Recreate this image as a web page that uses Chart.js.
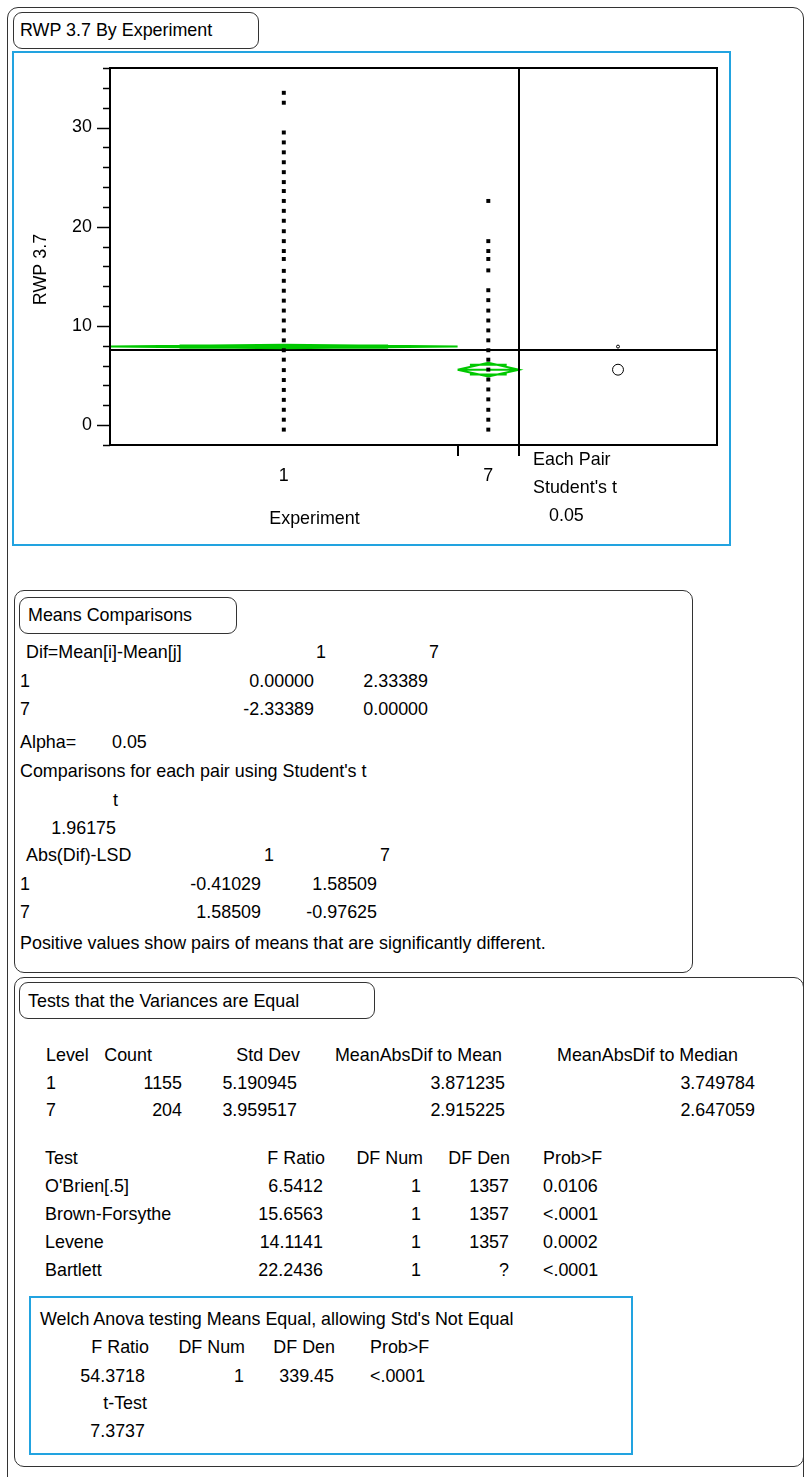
<!DOCTYPE html>
<html><head><meta charset="utf-8">
<script src="https://cdn.jsdelivr.net/npm/chart.js@4"></script>
<style>
html,body{margin:0;padding:0;background:#fff;}
body{width:804px;height:1477px;position:relative;overflow:hidden;font-family:"Liberation Sans",Arial,Helvetica,sans-serif;color:#000;}
.box{position:absolute;border:1px solid #333;border-radius:10px;box-sizing:border-box;}
.blue{position:absolute;border:2px solid #22a3e0;box-sizing:border-box;}
.t{position:absolute;white-space:nowrap;line-height:1;}
#cv{position:absolute;left:12px;top:52px;}
</style></head><body>
<div class="box" style="left:7px;top:7px;width:797px;height:1490px;border-radius:11px;"></div>
<div class="box" style="left:13px;top:12px;width:246px;height:37px;border-radius:9px;"></div>
<div class="blue" style="left:12px;top:51px;width:719px;height:495px;"></div>
<div class="box" style="left:14px;top:590px;width:679px;height:383px;"></div>
<div class="box" style="left:19px;top:597px;width:218px;height:37px;border-radius:9px;"></div>
<div class="box" style="left:14px;top:977px;width:790px;height:490px;"></div>
<div class="box" style="left:19px;top:982px;width:356px;height:37px;border-radius:9px;"></div>
<div class="blue" style="left:29px;top:1296px;width:604px;height:159px;"></div>
<canvas id="cv" width="718" height="493"></canvas>
<script>
// ---------------- data ----------------
const categories = ['1', '7'];
const counts = [1155, 204];
const group1Values = [-0.45, 0.55, 1.55, 2.55, 3.55, 4.55, 5.55, 6.6, 7.55, 8.55, 9.55, 10.55, 11.55, 12.55, 13.55, 14.55, 15.55, 16.75, 17.55, 18.55, 19.55, 20.6, 21.6, 22.6, 23.6, 24.5, 25.5, 26.5, 27.5, 28.5, 29.5, 32.5, 33.5];
const group7Values = [-0.45, 0.55, 1.55, 2.6, 3.6, 4.6, 5.6, 6.6, 7.55, 8.55, 9.55, 10.55, 11.55, 12.6, 13.6, 15.6, 16.75, 17.55, 18.55, 22.6];
const groupMeans = [7.92, 5.59];
const meanCIHalf = [0.18, 0.69];
const overlapMark = [0.12, 0.49];
const grandMean = 7.57;
const circleRadius = [0.15, 0.55];
const yTickLabels = [0, 10, 20, 30];
const yMin = -2, yMax = 36;

// text tables
const meansHeader = ['Dif=Mean[i]-Mean[j]', '1', '7'];
const difRows = [['1', '0.00000', '2.33389'], ['7', '-2.33389', '0.00000']];
const alphaValue = '0.05';
const tValue = '1.96175';
const lsdHeader = ['Abs(Dif)-LSD', '1', '7'];
const lsdRows = [['1', '-0.41029', '1.58509'], ['7', '1.58509', '-0.97625']];
const levelHeader = ['Level', 'Count', 'Std Dev', 'MeanAbsDif to Mean', 'MeanAbsDif to Median'];
const levelRows = [['1', '1155', '5.190945', '3.871235', '3.749784'], ['7', '204', '3.959517', '2.915225', '2.647059']];
const testHeader = ['Test', 'F Ratio', 'DF Num', 'DF Den', 'Prob>F'];
const testRows = [
  ["O'Brien[.5]", '6.5412', '1', '1357', '0.0106'],
  ['Brown-Forsythe', '15.6563', '1', '1357', '<.0001'],
  ['Levene', '14.1141', '1', '1357', '0.0002'],
  ['Bartlett', '22.2436', '1', '?', '<.0001']
];
const welchHeader = ['F Ratio', 'DF Num', 'DF Den', 'Prob>F'];
const welchRow = ['54.3718', '1', '339.45', '<.0001'];
const welchT = '7.3737';

// ---------------- text helpers ----------------
const FS = 17.9;
function put(text, x, base, align) {
  const d = document.createElement('div');
  d.className = 't';
  d.textContent = text;
  d.style.fontSize = FS + 'px';
  d.style.top = (base - 0.845 * FS) + 'px';
  d.style.left = x + 'px';
  if (align === 'right') d.style.transform = 'translateX(-100%)';
  else if (align === 'center') d.style.transform = 'translateX(-50%)';
  document.body.appendChild(d);
}
function putRow(row, cols, base) {
  row.forEach((txt, i) => put(txt, cols[i][0], base, cols[i][1]));
}

put('RWP 3.7 By Experiment', 20, 37, 'left');
put('Each Pair', 533, 466, 'left');
put("Student's t", 533, 494, 'left');
put(alphaValue, 549, 522, 'left');

// Means comparisons
put('Means Comparisons', 28, 622, 'left');
putRow(meansHeader, [[26, 'left'], [326, 'right'], [439, 'right']], 659);
const difCols = [[20, 'left'], [314, 'right'], [428, 'right']];
putRow(difRows[0], difCols, 688);
putRow(difRows[1], difCols, 716);
put('Alpha=', 20, 749, 'left');
put(alphaValue, 112, 749, 'left');
put("Comparisons for each pair using Student's t", 20, 778, 'left');
put('t', 118, 807, 'right');
put(tValue, 116, 835, 'right');
putRow(lsdHeader, [[26, 'left'], [274, 'right'], [390, 'right']], 862);
const lsdCols = [[20, 'left'], [261, 'right'], [377, 'right']];
putRow(lsdRows[0], lsdCols, 891);
putRow(lsdRows[1], lsdCols, 919);
put('Positive values show pairs of means that are significantly different.', 20, 950, 'left');

// Tests that variances are equal
put('Tests that the Variances are Equal', 28, 1008, 'left');
putRow(levelHeader, [[46, 'left'], [152, 'right'], [300, 'right'], [502, 'right'], [738, 'right']], 1062);
const levelCols = [[46, 'left'], [182, 'right'], [297, 'right'], [505, 'right'], [755, 'right']];
putRow(levelRows[0], levelCols, 1090);
putRow(levelRows[1], levelCols, 1117);
putRow(testHeader, [[45, 'left'], [325, 'right'], [423, 'right'], [510, 'right'], [543, 'left']], 1165);
const testCols = [[45, 'left'], [323, 'right'], [421, 'right'], [509, 'right'], [543, 'left']];
testRows.forEach((r, i) => putRow(r, testCols, 1193 + i * 28));
put("Welch Anova testing Means Equal, allowing Std's Not Equal", 40, 1326, 'left');
putRow(welchHeader, [[149, 'right'], [245, 'right'], [335, 'right'], [370, 'left']], 1354);
putRow(welchRow, [[145, 'right'], [244, 'right'], [334, 'right'], [370, 'left']], 1383);
put('t-Test', 147, 1410, 'right');
put(welchT, 145, 1438, 'right');

// ---------------- chart ----------------
const FONT = '"Liberation Sans", Arial, Helvetica, sans-serif';
const GREEN = '#00c800';
const total = counts[0] + counts[1];
const PANEL_RATIO = 198 / 409;              // width of comparison-circle panel relative to the group area
const xMax = total * (1 + PANEL_RATIO);
const bounds = [0, counts[0], total];
const centers = [counts[0] / 2, counts[0] + counts[1] / 2];
const circleX = total + total * PANEL_RATIO / 2;

function diamondData(g) {
  const x0 = bounds[g], x1 = bounds[g + 1], c = centers[g], m = groupMeans[g], h = meanCIHalf[g];
  const w = (x1 - x0) / 2, o = overlapMark[g];
  return [
    {x: x0, y: m}, {x: c, y: m + h}, {x: x1, y: m}, {x: c, y: m - h}, {x: x0, y: m}, {x: x0, y: null},
    {x: x0, y: m}, {x: x1, y: m}, {x: x1, y: null},
    {x: c - 0.6 * w, y: m + o}, {x: c + 0.6 * w, y: m + o}, {x: c + 0.6 * w, y: null},
    {x: c - 0.6 * w, y: m - o}, {x: c + 0.6 * w, y: m - o}
  ];
}

const framePlugin = {
  id: 'frame',
  afterDatasetsDraw(chart) {
    const ctx = chart.ctx, a = chart.chartArea, xs = chart.scales.x, ys = chart.scales.y;
    ctx.save();
    ctx.strokeStyle = '#000';
    ctx.lineWidth = 2;
    ctx.strokeRect(a.left, a.top, a.right - a.left, a.bottom - a.top);
    // y tick marks
    ctx.lineWidth = 1.5;
    for (let v = yMin; v <= yMax; v += 2) {
      const py = Math.round(ys.getPixelForValue(v)) + 0.5;
      const len = (v % 10 === 0) ? 13 : 7;
      ctx.beginPath(); ctx.moveTo(a.left - len, py); ctx.lineTo(a.left, py); ctx.stroke();
    }
    // group boundary tick and separator
    ctx.lineWidth = 2;
    const bx = Math.round(xs.getPixelForValue(bounds[1]));
    ctx.beginPath(); ctx.moveTo(bx, a.bottom); ctx.lineTo(bx, a.bottom + 11); ctx.stroke();
    const sx = Math.round(xs.getPixelForValue(total));
    ctx.beginPath(); ctx.moveTo(sx, a.top); ctx.lineTo(sx, a.bottom + 11); ctx.stroke();
    // axis titles
    ctx.fillStyle = '#000';
    ctx.font = FS + 'px ' + FONT;
    ctx.textAlign = 'center';
    ctx.textBaseline = 'alphabetic';
    const mid = (xs.getPixelForValue(0) + sx) / 2;
    ctx.fillText('Experiment', mid, a.bottom + 79);
    ctx.translate(a.left - 64, (a.top + a.bottom) / 2 + 13);
    ctx.rotate(-Math.PI / 2);
    ctx.fillText('RWP 3.7', 0, 0);
    ctx.restore();
  }
};

function noPad(s) { s.paddingTop = 0; s.paddingBottom = 0; s.paddingLeft = 0; s.paddingRight = 0; }

new Chart(document.getElementById('cv'), {
  type: 'scatter',
  data: {
    datasets: [
      {
        label: categories[0],
        data: group1Values.map(v => ({x: centers[0], y: v})),
        pointStyle: 'rect', pointRadius: 2.8, pointBackgroundColor: '#000', pointBorderWidth: 0, order: 0
      },
      {
        label: categories[1],
        data: group7Values.map(v => ({x: centers[1], y: v})),
        pointStyle: 'rect', pointRadius: 2.8, pointBackgroundColor: '#000', pointBorderWidth: 0, order: 0
      },
      {
        type: 'line', label: 'diamond 1', data: diamondData(0), borderColor: GREEN, borderWidth: 2,
        pointRadius: 0, spanGaps: false, fill: false, tension: 0, order: 1
      },
      {
        type: 'line', label: 'diamond 7', data: diamondData(1), borderColor: GREEN, borderWidth: 2,
        pointRadius: 0, spanGaps: false, fill: false, tension: 0, order: 1
      },
      {
        type: 'line', label: 'grand mean', data: [{x: 0, y: grandMean}, {x: xMax, y: grandMean}],
        borderColor: '#000', borderWidth: 2, pointRadius: 0, order: 2
      },
      {
        label: 'comparison circles',
        data: groupMeans.map(m => ({x: circleX, y: m})),
        pointStyle: 'circle', pointBackgroundColor: 'rgba(0,0,0,0)', pointBorderColor: '#000', pointBorderWidth: 1,
        pointRadius: (c) => {
          const ys = c.chart.scales.y;
          if (!ys) return 2;
          const i = c.dataIndex;
          return Math.abs(ys.getPixelForValue(groupMeans[i]) - ys.getPixelForValue(groupMeans[i] + circleRadius[i]));
        },
        order: 0
      }
    ]
  },
  options: {
    responsive: false,
    animation: false,
    devicePixelRatio: 1,
    layout: {padding: {top: 16, right: 13, bottom: 0, left: 0}},
    plugins: {legend: {display: false}, tooltip: {enabled: false}},
    scales: {
      x: {
        type: 'linear', min: 0, max: xMax,
        grid: {display: false, drawTicks: false},
        border: {display: false},
        afterBuildTicks(s) { s.ticks = centers.map(c => ({value: c})); },
        afterFit(s) { s.height = 100; noPad(s); },
        ticks: {
          autoSkip: false, maxRotation: 0, padding: 20, color: '#000',
          font: {size: FS, family: FONT},
          callback: (v, i) => categories[i]
        }
      },
      y: {
        type: 'linear', min: yMin, max: yMax,
        grid: {display: false, drawTicks: false},
        border: {display: false},
        afterBuildTicks(s) { s.ticks = yTickLabels.map(v => ({value: v})); },
        afterFit(s) { s.width = 98; noPad(s); },
        ticks: {
          padding: 18, color: '#000',
          font: {size: FS, family: FONT},
          callback: v => String(v)
        }
      }
    }
  },
  plugins: [framePlugin]
});
</script>
</body></html>
